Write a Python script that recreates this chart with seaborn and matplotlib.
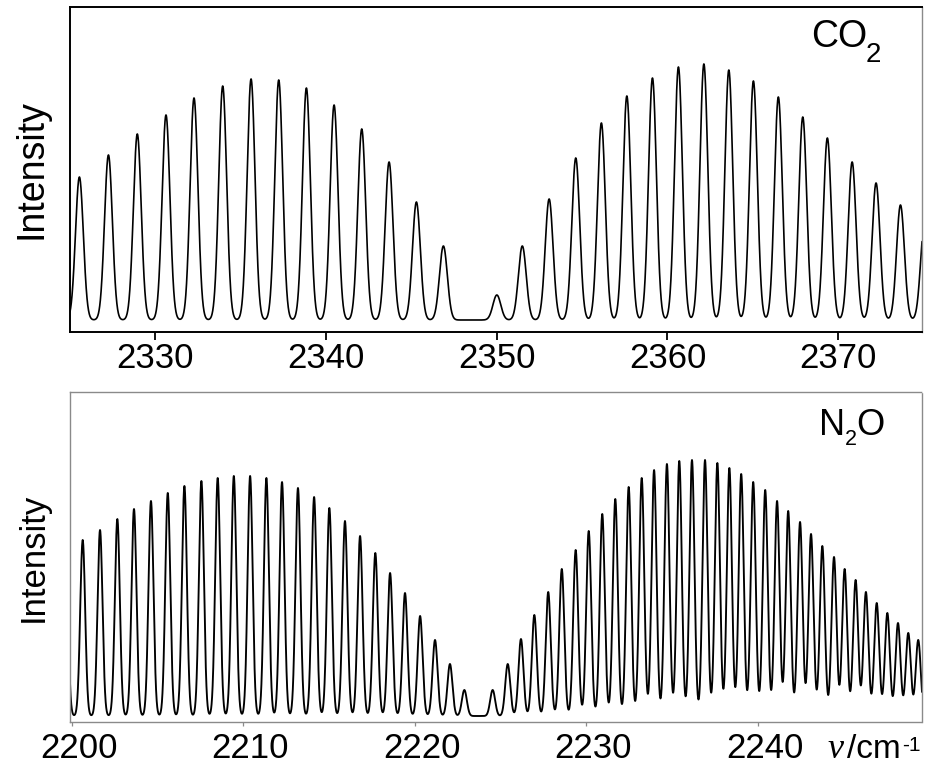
import numpy as np
import pandas as pd
import matplotlib
matplotlib.use("Agg")
import matplotlib.pyplot as plt
from matplotlib.transforms import ScaledTranslation
import seaborn as sns

# ---- data (line centres in cm^-1, peak intensity in arbitrary units) ----
co2_p_pos = [2325.57, 2327.27, 2328.96, 2330.64, 2332.28, 2333.96, 2335.62, 2337.24,
             2338.86, 2340.48, 2342.10, 2343.70, 2345.30, 2346.88]
co2_p_int = [143, 165, 186, 205, 222, 234, 241, 240, 232, 215, 191, 158, 118, 74]
co2_r_pos = [2350.01, 2351.50, 2353.07, 2354.63, 2356.13, 2357.62, 2359.12, 2360.64,
             2362.13, 2363.59, 2365.03, 2366.49, 2367.92, 2369.36, 2370.81, 2372.21,
             2373.64, 2375.05]
co2_r_int = [25, 74, 121, 162, 197, 224, 242, 253, 256, 250, 239, 223, 203, 182, 158,
             137, 115, 97]

n2o_p_pos = [2199.65, 2200.65, 2201.66, 2202.67, 2203.64, 2204.63, 2205.61, 2206.58,
             2207.57, 2208.52, 2209.46, 2210.41, 2211.36, 2212.27, 2213.20, 2214.14,
             2215.03, 2215.94, 2216.82, 2217.71, 2218.57, 2219.44, 2220.32, 2221.19,
             2222.06, 2222.90]
n2o_p_int = [166, 176, 186, 197, 207, 215, 223, 230, 235, 238, 240, 240, 238, 234, 228,
             219, 208, 195, 180, 163, 143, 123, 100, 76, 52, 26]
n2o_r_pos = [2224.55, 2225.43, 2226.20, 2226.98, 2227.79, 2228.58, 2229.39, 2230.15,
             2230.94, 2231.70, 2232.48, 2233.24, 2233.96, 2234.71, 2235.43, 2236.17,
             2236.93, 2237.65, 2238.35, 2239.04, 2239.74, 2240.44, 2241.13, 2241.78,
             2242.47, 2243.11, 2243.77, 2244.45, 2245.07, 2245.71, 2246.31, 2246.94,
             2247.56, 2248.18, 2248.78, 2249.36]
n2o_r_int = [26, 52, 77, 101, 124, 147, 166, 185, 202, 217, 229, 238, 246, 252, 255, 256,
             256, 253, 248, 242, 234, 226, 215, 205, 194, 182, 170, 159, 147, 136, 124,
             113, 103, 93, 83, 76]

co2_ticks = [2330, 2340, 2350, 2360, 2370]
n2o_ticks = [2200, 2210, 2220, 2230, 2240]
co2_xlim = (2325.02, 2374.9)
n2o_xlim = (2199.91, 2249.58)
co2_width = 0.23   # Gaussian line width (sigma, cm^-1)
n2o_width = 0.145


def spectrum(xlim, centres, heights, sigma):
    x = np.linspace(xlim[0], xlim[1], 8000)
    c = np.asarray(centres)[:, None]
    h = np.asarray(heights)[:, None]
    y = (h * np.exp(-0.5 * ((x[None, :] - c) / sigma) ** 2)).sum(axis=0)
    return pd.DataFrame({"wn": x, "I": y})


co2 = spectrum(co2_xlim, co2_p_pos + co2_r_pos, co2_p_int + co2_r_int, co2_width)
n2o = spectrum(n2o_xlim, n2o_p_pos + n2o_r_pos, n2o_p_int + n2o_r_int, n2o_width)

sns.set_theme(style="ticks")
plt.rcParams["font.family"] = ["Liberation Sans", "DejaVu Sans"]
plt.rcParams["text.color"] = "black"
plt.rcParams["axes.labelcolor"] = "black"
plt.rcParams["xtick.labelcolor"] = "black"

W, H = 926, 765
fig = plt.figure(figsize=(W / 100, H / 100), dpi=100)
ax1 = fig.add_axes([70 / W, 1 - 332 / H, 852 / W, 325 / H])
ax2 = fig.add_axes([70 / W, 1 - 722 / H, 852 / W, 330 / H])

sns.lineplot(data=co2, x="wn", y="I", ax=ax1, color="black", linewidth=1.2,
             estimator=None, sort=False)
sns.lineplot(data=n2o, x="wn", y="I", ax=ax2, color="black", linewidth=1.35,
             estimator=None, sort=False)

# ---- top panel ----
ax1.set_xlim(*co2_xlim)
ax1.set_ylim(-12, 313)
ax1.set_xticks(co2_ticks)
ax1.set_xticklabels([str(t) for t in co2_ticks])
ax1.set_yticks([])
ax1.tick_params(axis="x", direction="out", length=5.5, width=1.3, pad=2.0,
                labelsize=25, color="black", labelcolor="black", bottom=True)
for s in ["left", "top", "bottom"]:
    ax1.spines[s].set_color("black")
    ax1.spines[s].set_linewidth(1.4)
ax1.spines["right"].set_color("#8a8a8a")
ax1.spines["right"].set_linewidth(1.0)
ax1.set_xlabel("")
ax1.set_ylabel("Intensity", fontsize=27, color="black")
ax1.yaxis.set_label_coords(-20 / 852, 0.5)

# ---- bottom panel ----
ax2.set_xlim(*n2o_xlim)
ax2.set_ylim(-6, 324)
ax2.set_xticks(n2o_ticks)
ax2.set_xticklabels([str(t) for t in n2o_ticks])
ax2.set_yticks([])
ax2.tick_params(axis="x", direction="out", length=3.0, width=0.9, pad=4.5,
                labelsize=25, color="#8a8a8a", labelcolor="black", bottom=True)
for lab in ax2.get_xticklabels():
    lab.set_transform(lab.get_transform() + ScaledTranslation(0.07, 0, fig.dpi_scale_trans))
ax2.spines["left"].set_color("#8a8a8a")
ax2.spines["left"].set_linewidth(1.0)
for s in ["top", "bottom", "right"]:
    ax2.spines[s].set_color("#8a8a8a")
    ax2.spines[s].set_linewidth(1.0)
    ax2.spines[s].set_linestyle((0, (1.2, 1.0)))
ax2.set_xlabel("")
ax2.set_ylabel("Intensity", fontsize=25, color="black")
ax2.yaxis.set_label_coords(-20 / 852, 0.5)


def ftext(x, y, s, **kw):
    fig.text(x / W, 1 - y / H, s, ha="left", va="baseline", color="black", **kw)


# molecule labels
ftext(811, 47, "CO", fontsize=27)
ftext(866, 62, "2", fontsize=20)
ftext(819, 435, "N", fontsize=26)
ftext(845, 445, "2", fontsize=15.5)
ftext(856, 435, "O", fontsize=26)

# axis unit label
ftext(828, 758, "ν", fontsize=26, family=["Liberation Serif", "DejaVu Serif"], style="italic")
ftext(847, 758, "/cm", fontsize=24)
ftext(902, 751, "-1", fontsize=15)

fig.savefig("out.png", dpi=100)
